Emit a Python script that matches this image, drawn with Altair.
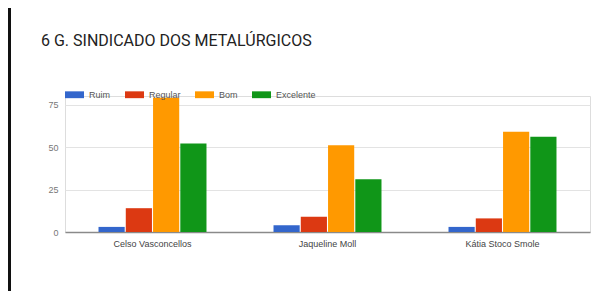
import altair as alt
import pandas as pd

titulo = "6 G. SINDICADO DOS METALÚRGICOS"
candidatos = ["Celso Vasconcellos", "Jaqueline Moll", "Kátia Stoco Smole"]
avaliacoes = ["Ruim", "Regular", "Bom", "Excelente"]
cores = ["#3366cc", "#dc3912", "#ff9900", "#109618"]
ruim = [3, 4, 3]
regular = [14, 9, 8]
bom = [79, 51, 59]
excelente = [52, 31, 56]
y_ticks = [0, 25, 50, 75]

rows = []
for serie, vals in zip(avaliacoes, [ruim, regular, bom, excelente]):
    for c, v in zip(candidatos, vals):
        rows.append({"candidato": c, "avaliacao": serie, "valor": v})
df = pd.DataFrame(rows)

FONT = "Liberation Sans"

bars = alt.Chart(df).mark_bar().encode(
    x=alt.X("candidato:N", sort=candidatos,
            scale=alt.Scale(paddingInner=0.383, paddingOuter=0.1915),
            axis=alt.Axis(title=None, labelAngle=0, ticks=False, labelPadding=7,
                          labelFontSize=9, labelFont=FONT, labelColor="#444",
                          domainColor="#8a8a8a", domainWidth=1.5, grid=False)),
    xOffset=alt.XOffset("avaliacao:N", sort=avaliacoes,
                        scale=alt.Scale(paddingInner=0.04)),
    y=alt.Y("valor:Q", scale=alt.Scale(domain=[0, 80], nice=False),
            axis=alt.Axis(title=None, values=y_ticks, ticks=False, domain=False,
                          labelPadding=7, labelFontSize=9, labelFont=FONT,
                          labelColor="#777", gridColor="#e3e3e3")),
    color=alt.Color("avaliacao:N", sort=avaliacoes,
                    scale=alt.Scale(domain=avaliacoes, range=cores),
                    legend=alt.Legend(title=None, orient="none", legendX=0, legendY=-11,
                                      direction="horizontal", padding=0,
                                      symbolType="M-1,-0.36H1V0.36H-1Z", symbolSize=361,
                                      symbolStrokeWidth=0, labelOffset=5, columnPadding=14,
                                      labelFontSize=9, labelFont=FONT, labelColor="#555")),
)

titulo_txt = alt.Chart(pd.DataFrame({"t": [titulo]})).mark_text(
    align="left", baseline="alphabetic", font="Roboto", fontSize=16, color="#222"
).encode(text="t:N", x=alt.value(-24), y=alt.value(-50))

borda = alt.Chart(df).mark_rule(color="#111", strokeWidth=3).encode(
    x=alt.value(-56), y=alt.value(-88), y2=alt.value(195)
)

chart = alt.layer(bars, titulo_txt, borda).properties(
    width=525, height=136,
    autosize=alt.AutoSizeParams(type="none"),
    padding={"left": 57, "top": 88, "right": 16, "bottom": 59},
).configure_view(stroke=None).configure(background="white")

chart.save("out.html", embed_options={"renderer": "svg", "actions": False})
